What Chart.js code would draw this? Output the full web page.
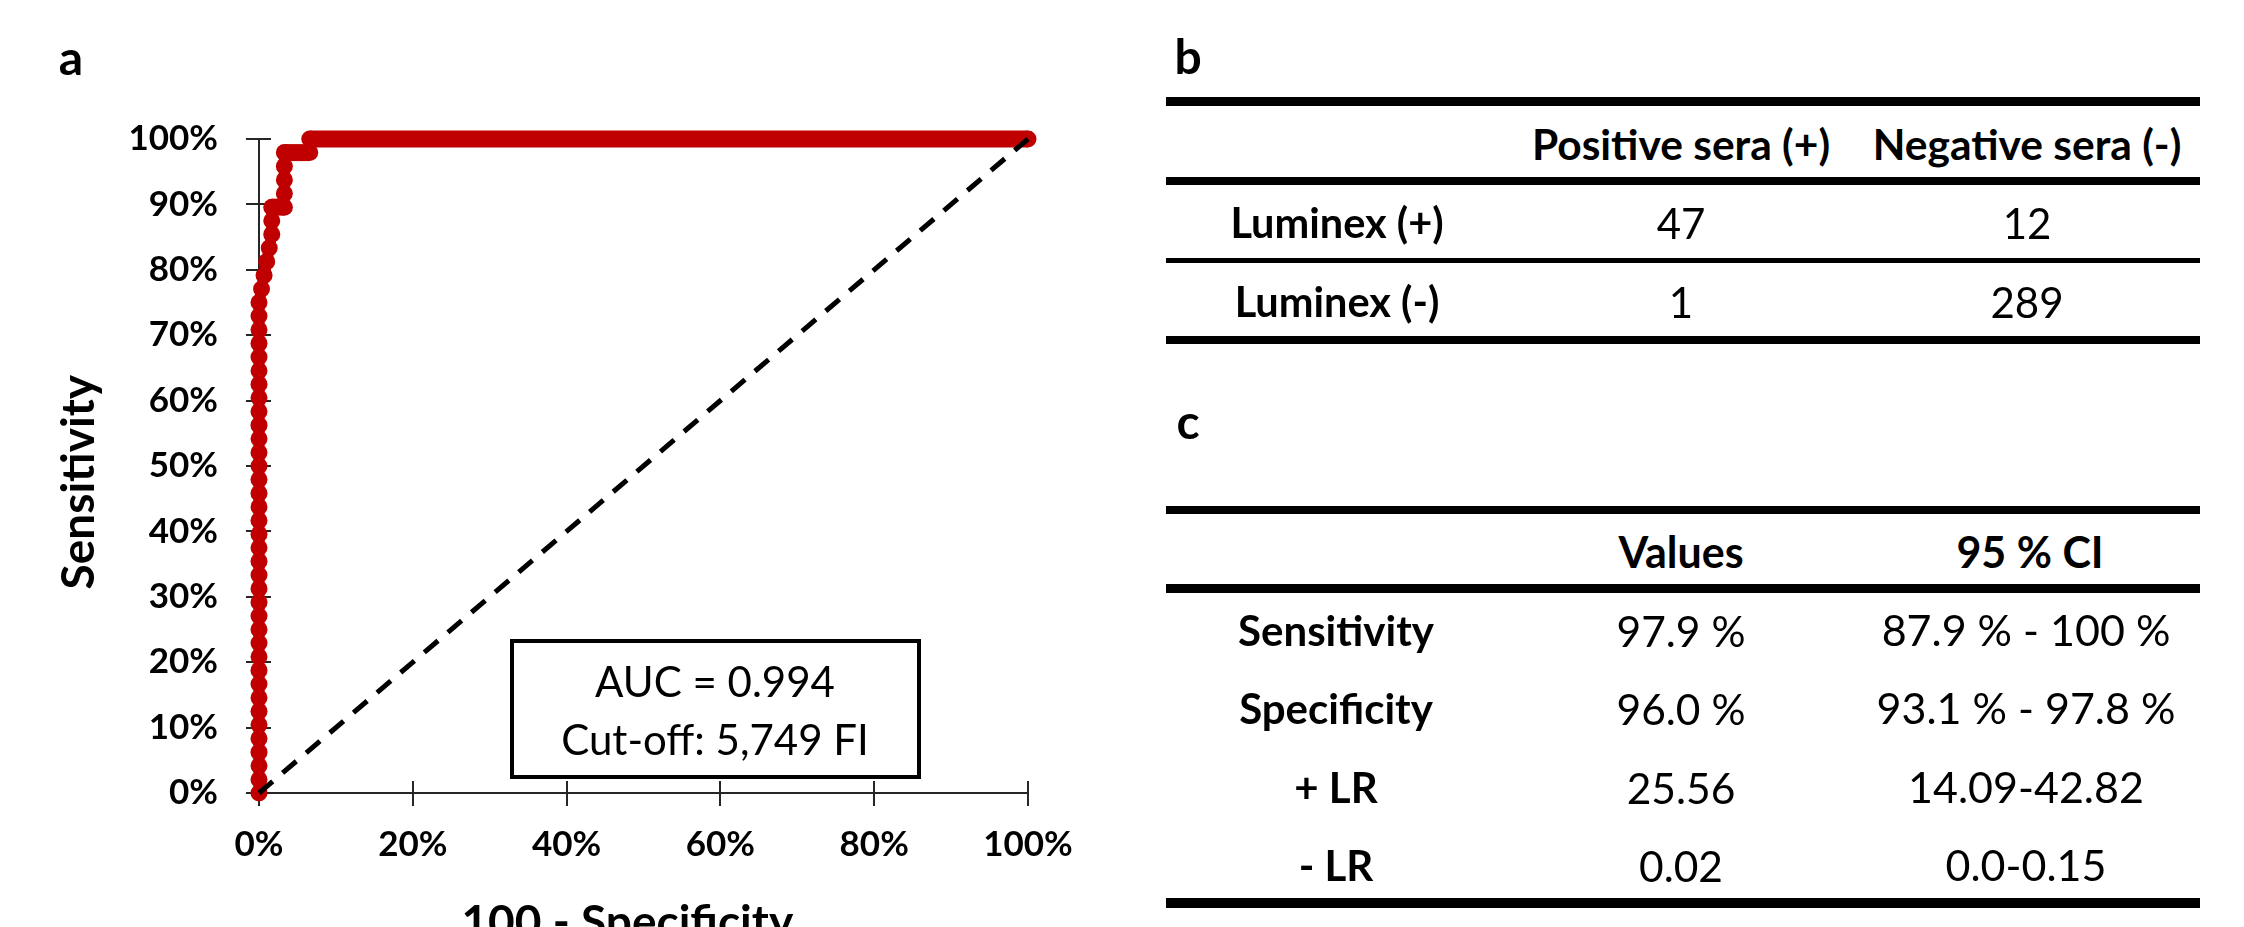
<!DOCTYPE html>
<html>
<head>
<meta charset="utf-8">
<script src="https://cdn.jsdelivr.net/npm/chart.js@4.4.1/dist/chart.umd.min.js"></script>
<style>
html,body{margin:0;padding:0;background:#fff;}
body{width:2244px;height:927px;overflow:hidden;position:relative;font-family:Lato,"Open Sans",sans-serif;color:#000;}
#chartWrap{position:absolute;left:0;top:0;width:1110px;height:980px;}
.t{position:absolute;white-space:nowrap;text-align:center;line-height:1.2;}
.rule{position:absolute;background:#000;}
#aucBox{position:absolute;left:510px;top:639px;width:411px;height:140px;box-sizing:border-box;border:4px solid #000;background:#fff;}
</style>
</head>
<body>
<div id="chartWrap"><canvas id="roc" width="1110" height="980"></canvas></div>
<script>
// ---------- data ----------
// ROC curve: 100 - specificity (%) and sensitivity (%)
const rocFpr = [0,0,0,0,0,0,0,0,0,0,0,0,0,0,0,0,0,0,0,0,0,0,0,0,0,0,0,0,0,0,0,0,0,0,0,0,0,
  0.33,0.66,1.0,1.33,1.66,1.66,1.66,3.3,3.3,3.3,3.3,3.3,6.6,6.6,100];
const rocTpr = [0,2.08,4.17,6.25,8.33,10.42,12.5,14.58,16.67,18.75,20.83,22.92,25,27.08,29.17,31.25,
  33.33,35.42,37.5,39.58,41.67,43.75,45.83,47.92,50,52.08,54.17,56.25,58.33,60.42,62.5,64.58,66.67,
  68.75,70.83,72.92,75,77.08,79.17,81.25,83.33,85.42,87.5,89.58,89.58,91.67,93.75,95.83,97.92,97.92,100,100];
// reference diagonal
const diagX = [0, 100];
const diagY = [0, 100];
// axis tick labels
const xTickLabels = ['0%','20%','40%','60%','80%','100%'];
const yTickLabels = ['0%','10%','20%','30%','40%','50%','60%','70%','80%','90%','100%'];
const xAxisTitle = '100 - Specificity';
const yAxisTitle = 'Sensitivity';
const annotationLines = ['AUC = 0.994', 'Cut-off: 5,749 FI'];
// table b
const tableBCols = ['Positive sera (+)', 'Negative sera (-)'];
const tableBRows = ['Luminex (+)', 'Luminex (-)'];
const tableBPositive = [47, 1];
const tableBNegative = [12, 289];
// table c
const tableCCols = ['Values', '95 % CI'];
const tableCRows = ['Sensitivity', 'Specificity', '+ LR', '- LR'];
const tableCValues = ['97.9 %', '96.0 %', '25.56', '0.02'];
const tableCCI = ['87.9 % - 100 %', '93.1 % - 97.8 %', '14.09-42.82', '0.0-0.15'];
const panelLabels = ['a', 'b', 'c'];

// ---------- helpers ----------
function placeText(str, cx, cy, size, weight) {
  const d = document.createElement('div');
  d.className = 't';
  d.textContent = str;
  d.style.fontSize = size + 'px';
  d.style.fontWeight = weight;
  d.style.width = '800px';
  d.style.left = (cx - 400) + 'px';
  d.style.top = (cy - size * 0.6) + 'px';
  document.body.appendChild(d);
}
function rule(left, top, width, height) {
  const d = document.createElement('div');
  d.className = 'rule';
  d.style.left = left + 'px'; d.style.top = top + 'px';
  d.style.width = width + 'px'; d.style.height = height + 'px';
  document.body.appendChild(d);
}

// ---------- panel labels ----------
placeText(panelLabels[0], 71, 57, 48, 700);
placeText(panelLabels[1], 1188, 56, 48, 700);
placeText(panelLabels[2], 1188, 421, 48, 700);

// ---------- annotation box ----------
const box = document.createElement('div');
box.id = 'aucBox';
document.body.appendChild(box);
placeText(annotationLines[0], 715, 681, 42, 400);
placeText(annotationLines[1], 715, 739, 42, 400);

// ---------- table b ----------
const TL = 1166, TW = 1034;
rule(TL, 97, TW, 9);
rule(TL, 177, TW, 8);
rule(TL, 258, TW, 5);
rule(TL, 336, TW, 8);
const bColX = [1681, 2027];
tableBCols.forEach((c, i) => placeText(c, bColX[i], 143, 42.5, 700));
const bRowY = [223, 302];
tableBRows.forEach((r, i) => {
  placeText(r, 1337, bRowY[i], 41.5, 700);
  placeText(String(tableBPositive[i]), bColX[0], bRowY[i], 42, 400);
  placeText(String(tableBNegative[i]), bColX[1], bRowY[i], 42, 400);
});

// ---------- table c ----------
rule(TL, 506, TW, 8);
rule(TL, 584, TW, 9);
rule(TL, 898, TW, 10);
const cColX = [1681, 2030];
tableCCols.forEach((c, i) => placeText(c, cColX[i], 552, 43, 700));
const cRowY = [630, 708, 787, 865];
tableCRows.forEach((r, i) => {
  placeText(r, 1336, cRowY[i], 42, 700);
  placeText(tableCValues[i], cColX[0], cRowY[i], 42.5, 400);
  placeText(tableCCI[i], 2026, cRowY[i], 43, 400);
});

// ---------- chart ----------
const AXIS = '#262626';
const innerTicks = {
  id: 'innerTicks',
  beforeDatasetsDraw(chart) {
    const {ctx, chartArea} = chart;
    const xs = chart.scales.x, ys = chart.scales.y;
    ctx.save();
    ctx.strokeStyle = AXIS;
    ctx.lineWidth = 2;
    xs.ticks.forEach(t => {
      const px = Math.round(xs.getPixelForValue(t.value));
      ctx.beginPath(); ctx.moveTo(px, chartArea.bottom); ctx.lineTo(px, chartArea.bottom - 12); ctx.stroke();
    });
    ys.ticks.forEach(t => {
      const py = Math.round(ys.getPixelForValue(t.value));
      ctx.beginPath(); ctx.moveTo(chartArea.left, py); ctx.lineTo(chartArea.left + 12, py); ctx.stroke();
    });
    ctx.restore();
  }
};

function draw() {
  const rocData = rocFpr.map((x, i) => ({x: x, y: rocTpr[i]}));
  const diagData = diagX.map((x, i) => ({x: x, y: diagY[i]}));
  const tickFont = {family: 'Lato', weight: 'bold', size: 35};
  const titleFont = {family: 'Lato', weight: 'bold', size: 46};
  const pad = '\u00A0\u00A0\u00A0';
  new Chart(document.getElementById('roc'), {
    type: 'scatter',
    data: {
      datasets: [
        {
          label: 'Reference',
          data: diagData,
          showLine: true,
          borderColor: '#000',
          borderWidth: 5,
          borderDash: [18, 13],
          pointRadius: 0,
          pointHoverRadius: 0,
          clip: false,
          order: 0
        },
        {
          label: 'ROC',
          data: rocData,
          showLine: true,
          borderColor: '#C00000',
          backgroundColor: '#C00000',
          borderWidth: 11,
          segment: {
            borderWidth: ctx => (ctx.p0.parsed.y === ctx.p1.parsed.y ? 17 : 11)
          },
          pointRadius: 8.5,
          pointHoverRadius: 8.5,
          pointBorderWidth: 0,
          pointBackgroundColor: '#C00000',
          clip: false,
          order: 1
        }
      ]
    },
    options: {
      responsive: false,
      animation: false,
      events: [],
      layout: {padding: {left: 0, top: 139, right: 82, bottom: 0}},
      plugins: {legend: {display: false}, tooltip: {enabled: false}},
      scales: {
        x: {
          type: 'linear', min: 0, max: 100,
          afterFit: s => { s.height = 187; },
          border: {display: true, color: AXIS, width: 2},
          grid: {drawOnChartArea: false, drawTicks: true, tickLength: 13, color: AXIS, tickColor: AXIS, lineWidth: 2},
          ticks: {stepSize: 20, maxRotation: 0, autoSkip: false, padding: 18, color: '#000', font: tickFont,
                  callback: (v, i) => xTickLabels[i]},
          title: {display: true, text: xAxisTitle + pad, color: '#000', font: titleFont, padding: {top: 0, bottom: 29}}
        },
        y: {
          type: 'linear', min: 0, max: 100,
          afterFit: s => { s.width = 259; },
          border: {display: true, color: AXIS, width: 2},
          grid: {drawOnChartArea: false, drawTicks: true, tickLength: 13, color: AXIS, tickColor: AXIS, lineWidth: 2},
          ticks: {stepSize: 10, autoSkip: false, padding: 28, color: '#000', font: tickFont,
                  callback: (v, i) => yTickLabels[i]},
          title: {display: true, text: yAxisTitle + pad, color: '#000', font: titleFont, padding: {top: 52, bottom: 0}}
        }
      }
    },
    plugins: [innerTicks]
  });
}
if (document.fonts && document.fonts.load) {
  Promise.all([document.fonts.load('bold 35px Lato'), document.fonts.load('400 42px Lato')]).then(draw, draw);
} else { draw(); }
</script>
</body>
</html>
